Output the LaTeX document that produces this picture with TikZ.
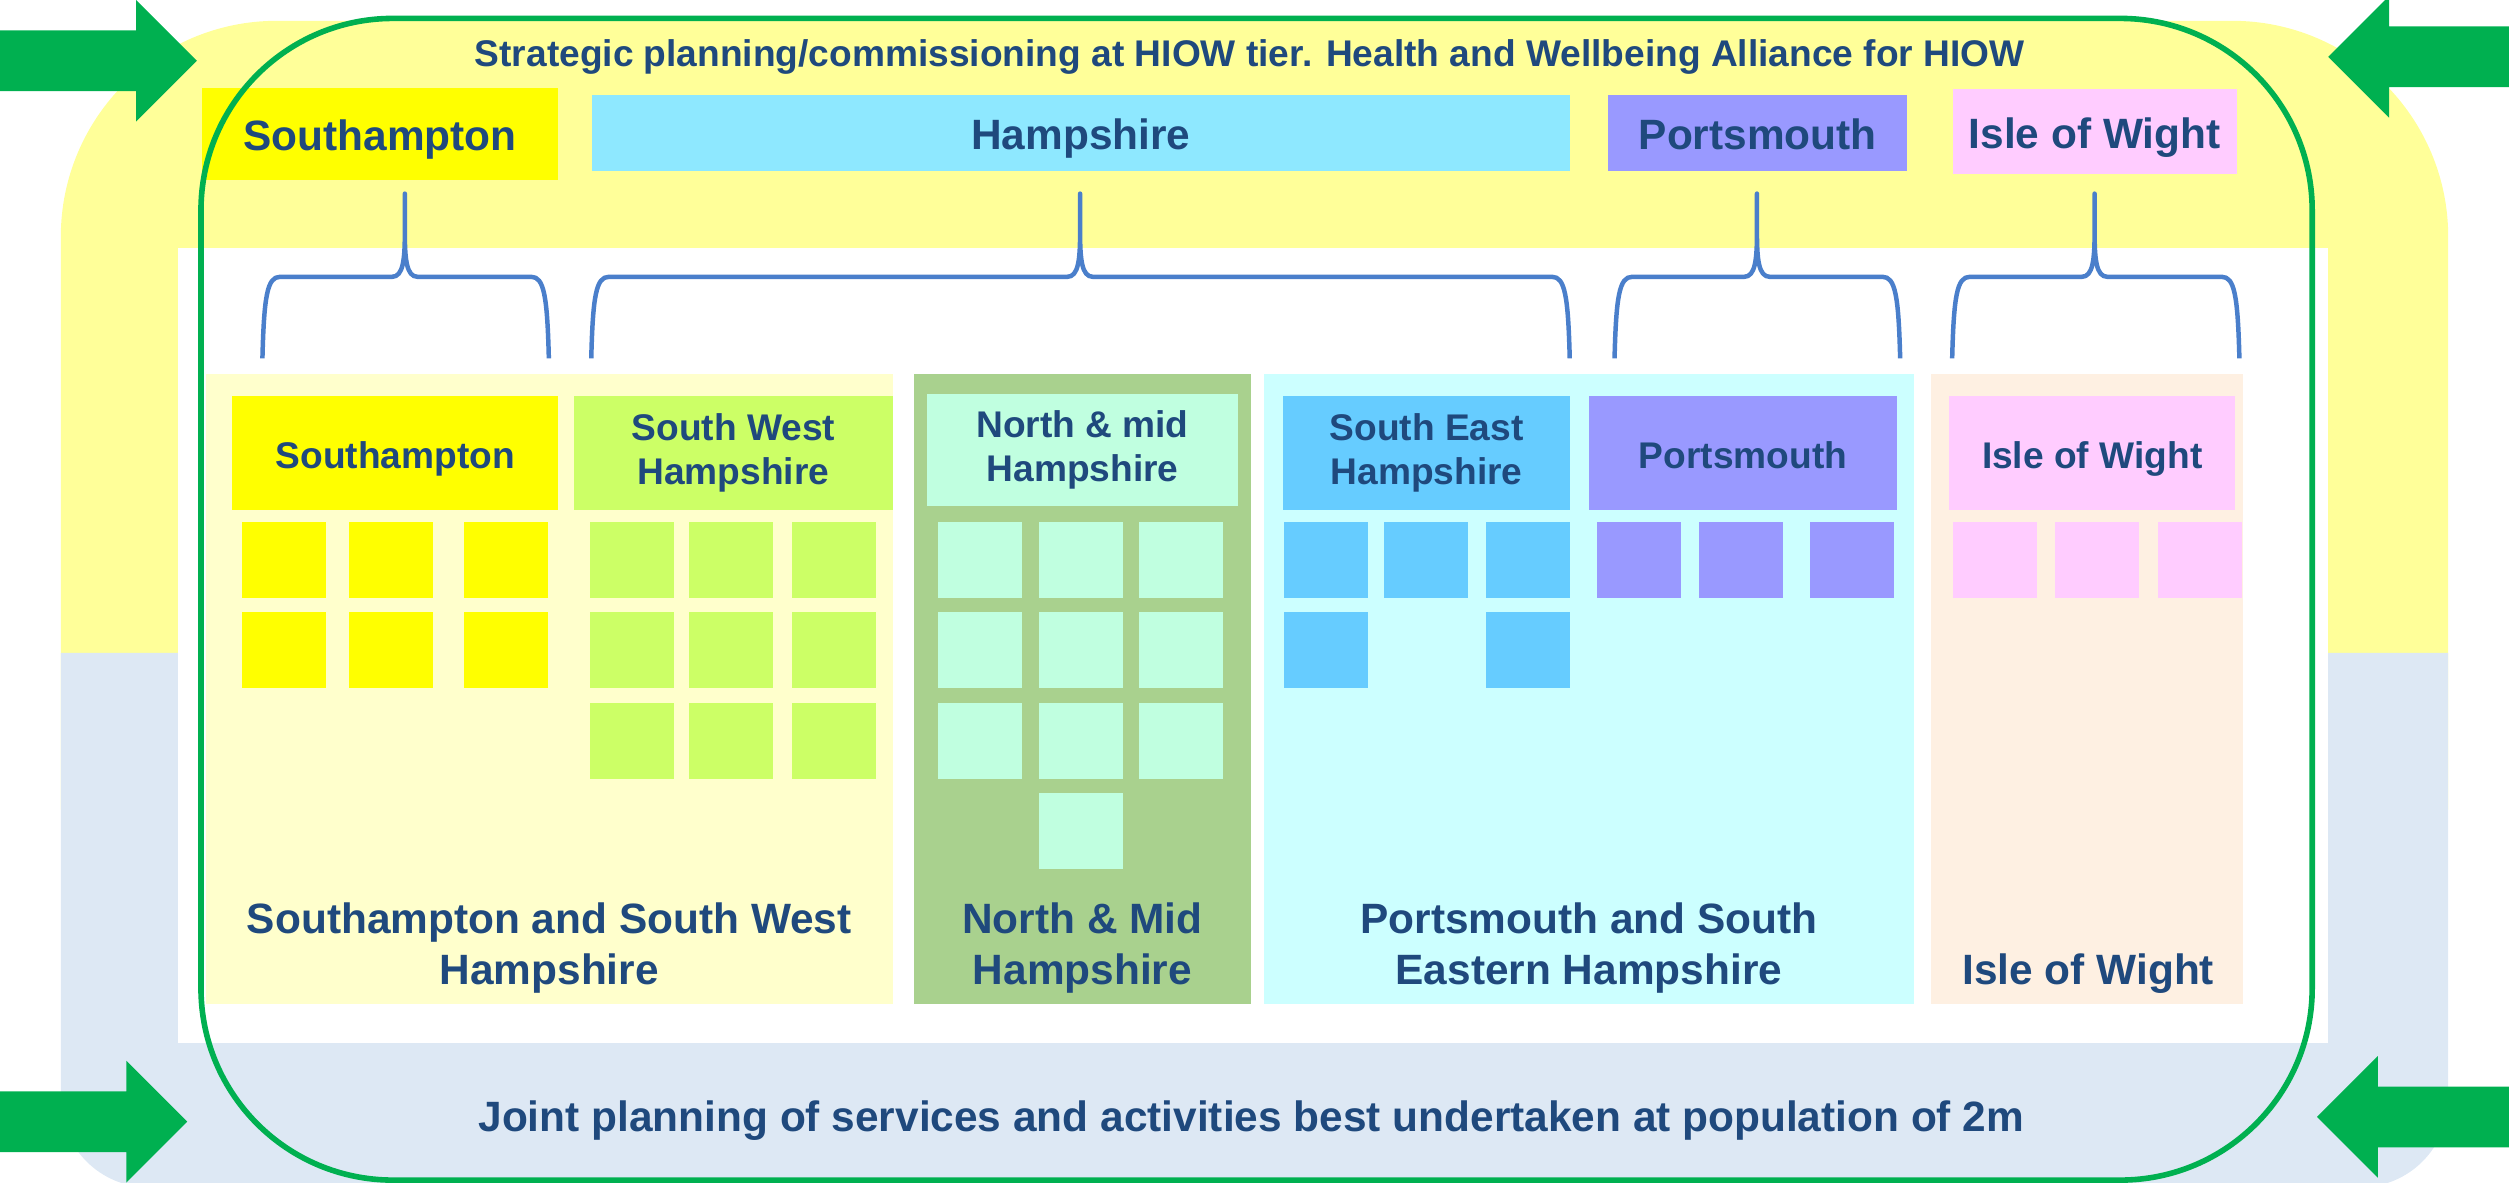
\documentclass[tikz,border=0pt]{standalone}
\usepackage{fontspec}
\setmainfont{Liberation Sans}
\definecolor{ink}{HTML}{1F497D}
\definecolor{bgyellow}{HTML}{FFFF99}
\definecolor{bgblue}{HTML}{DDE8F4}
\definecolor{framegreen}{HTML}{00B050}
\definecolor{bracecol}{HTML}{4A7FCB}
\definecolor{sotonyellow}{HTML}{FFFF00}
\definecolor{hantsblue}{HTML}{8EE8FF}
\definecolor{portsviolet}{HTML}{9999FF}
\definecolor{iowpink}{HTML}{FFCCFF}
\definecolor{swpanel}{HTML}{FFFFCC}
\definecolor{swgreen}{HTML}{CCFF66}
\definecolor{nmpanel}{HTML}{A9D18E}
\definecolor{nmmint}{HTML}{C0FFE0}
\definecolor{sepanel}{HTML}{CCFFFF}
\definecolor{seblue}{HTML}{66CCFF}
\definecolor{iowpanel}{HTML}{FEF0E2}

\newcommand\smallbold{\fontsize{23.2}{27.8}\selectfont\bfseries}
\newcommand\bigbold{\fontsize{26.5}{31.8}\selectfont\bfseries}

\tikzset{
  box/.style={inner sep=0pt, text=ink, align=center},
  topbox/.style={box, font=\bigbold, text height=26.2pt, text depth=5.6pt},
  subbox/.style={box, font=\smallbold, minimum height=71pt},
  oneline/.style={text height=24.2pt, text depth=4.9pt},
  panel/.style={inner sep=0pt, minimum height=393.5pt},
  tile/.style={inner sep=0pt, minimum width=52.5pt, minimum height=47.5pt},
  brace/.style={draw=bracecol, line width=2.8pt},
}

\newcommand\tileRow[6] {
  \node[tile, fill=#2] (#1-1) at (#3, #6) {} ;
  \node[tile, fill=#2] (#1-2) at (#4, #6) {} ;
  \node[tile, fill=#2] (#1-3) at (#5, #6) {} ;
}
\newcommand\districtBrace[3] {
  \draw[brace] (#1, 224) .. controls (#1+1, 185) and (#1+3, 173) .. (#1+11, 173)
     -- (#2-8, 173) .. controls (#2-1, 173) and (#2, 162) .. (#2, 145) -- (#2, 121)
     -- (#2, 145) .. controls (#2, 162) and (#2+1, 173) .. (#2+8, 173)
     -- (#3-11, 173) .. controls (#3-3, 173) and (#3-1, 185) .. (#3, 224) ;
}
\newcommand\greenArrow {
  \fill[framegreen] (0, 0) -- (-38, 38) -- (-38, 19) -- (-140, 19)
     -- (-140, -19) -- (-38, -19) -- (-38, -38) -- cycle ;
}

\begin{document}
\begin{tikzpicture}[x=1pt, y=-1pt, line join=round]
  \useasboundingbox (0, 0) rectangle (1568, 739) ;
  \clip (0, 0) rectangle (1568, 739) ;
  \fill[bgyellow] (38, 506) [rounded corners=135] -- (38, 13) -- (1530, 13) [sharp corners] -- (1530, 506) -- cycle ;
  \fill[bgblue] (38, 408) -- (1530, 408) [rounded corners=55] -- (1530, 742) -- (38, 742) [sharp corners] -- cycle ;
  \fill[white] (111, 155) rectangle (1455, 652) ;

  \node[box, font=\smallbold, anchor=base] (strategic) at (781, 41.7)
     {Strategic planning/commissioning at HIOW tier. Health and Wellbeing Alliance for HIOW} ;
  \node[topbox, fill=sotonyellow, minimum width=223pt, minimum height=57.5pt] (topSoton) at (237.5, 83.75) {Southampton} ;
  \node[topbox, fill=hantsblue, minimum width=611.5pt, minimum height=47.3pt] (topHants) at (675.5, 83) {Hampshire} ;
  \node[topbox, fill=portsviolet, minimum width=187pt, minimum height=47.3pt] (topPorts) at (1098.5, 83) {Portsmouth} ;
  \node[topbox, fill=iowpink, minimum width=177.6pt, minimum height=52.8pt] (topIoW) at (1309, 82.2) {Isle of Wight} ;

  \districtBrace{164}{253}{343}
  \districtBrace{369.5}{675}{981}
  \districtBrace{1009}{1098}{1187.5}
  \districtBrace{1220}{1309}{1399.5}

  \node[panel, fill=swpanel, minimum width=429.5pt] (panelSW) at (343.25, 430.75) {} ;
  \node[panel, fill=nmpanel, minimum width=211pt] (panelNM) at (676.5, 430.75) {} ;
  \node[panel, fill=sepanel, minimum width=406.2pt] (panelSE) at (992.9, 430.75) {} ;
  \node[panel, fill=iowpanel, minimum width=195pt] (panelIoW) at (1304.5, 430.75) {} ;

  \node[subbox, oneline, fill=sotonyellow, minimum width=204pt] (subSoton) at (247, 283) {Southampton} ;
  \node[subbox, fill=swgreen, minimum width=199.4pt] (subSW) at (458.3, 283) {South West\\Hampshire} ;
  \node[subbox, fill=nmmint, minimum width=194.3pt, minimum height=70pt] (subNM) at (676.5, 281) {North \& mid\\Hampshire} ;
  \node[subbox, fill=seblue, minimum width=179pt] (subSE) at (891.5, 283) {South East\\Hampshire} ;
  \node[subbox, oneline, fill=portsviolet, minimum width=192.6pt] (subPorts) at (1089.3, 283) {Portsmouth} ;
  \node[subbox, oneline, fill=iowpink, minimum width=179pt] (subIoW) at (1307.5, 283) {Isle of Wight} ;

  \tileRow{sot1}{sotonyellow}{177.5}{244.5}{316.5}{350}
  \tileRow{sot2}{sotonyellow}{177.5}{244.5}{316.5}{406.5}
  \tileRow{sw1}{swgreen}{394.75}{457}{521.5}{350}
  \tileRow{sw2}{swgreen}{394.75}{457}{521.5}{406.5}
  \tileRow{sw3}{swgreen}{394.75}{457}{521.5}{463}
  \tileRow{nm1}{nmmint}{612.5}{675.5}{737.8}{350}
  \tileRow{nm2}{nmmint}{612.5}{675.5}{737.8}{406.5}
  \tileRow{nm3}{nmmint}{612.5}{675.5}{737.8}{463}
  \node[tile, fill=nmmint] (nm4-2) at (675.5, 519.5) {} ;
  \tileRow{se1}{seblue}{828.5}{891}{955}{350}
  \node[tile, fill=seblue] (se2-1) at (828.5, 406.5) {} ;
  \node[tile, fill=seblue] (se2-3) at (955, 406.5) {} ;
  \tileRow{pt1}{portsviolet}{1024}{1088}{1157.5}{350}
  \tileRow{iw1}{iowpink}{1247}{1310.5}{1375}{350}

  \node[box, font=\bigbold, anchor=base] (labelSW) at (343.25, 615) {Southampton and South West\\Hampshire} ;
  \node[box, font=\bigbold, anchor=base] (labelNM) at (676.5, 615) {North \& Mid\\Hampshire} ;
  \node[box, font=\bigbold, anchor=base] (labelSE) at (993, 615) {Portsmouth and South\\Eastern Hampshire} ;
  \node[box, font=\bigbold, anchor=base] (labelIoW) at (1305, 615) {Isle of Wight} ;

  \node[box, font=\bigbold, anchor=base] (joint) at (782, 707)
     {Joint planning of services and activities best undertaken at population of 2m} ;

  \begin{scope}[shift={(123, 38)}]
    \greenArrow
  \end{scope}
  \begin{scope}[shift={(117, 701)}]
    \greenArrow
  \end{scope}
  \begin{scope}[shift={(1455, 35.5)}, xscale=-1]
    \greenArrow
  \end{scope}
  \begin{scope}[shift={(1448, 698)}, xscale=-1]
    \greenArrow
  \end{scope}

  \draw[framegreen, line width=3.5pt, rounded corners=120] (125.6, 11.5) rectangle (1445, 737.5) ;
\end{tikzpicture}
\end{document}
